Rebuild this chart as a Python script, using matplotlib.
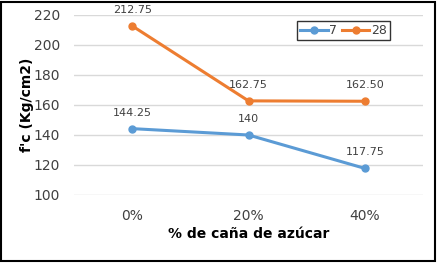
import matplotlib.pyplot as plt
from matplotlib.patches import Rectangle

categories = ["0%", "20%", "40%"]
series_7 = [144.25, 140, 117.75]
series_28 = [212.75, 162.75, 162.50]
labels_7 = ["144.25", "140", "117.75"]
labels_28 = ["212.75", "162.75", "162.50"]
yticks = [100, 120, 140, 160, 180, 200, 220]

W, H = 443, 265
fig = plt.figure(figsize=(W / 100, H / 100), dpi=100)
ax = fig.add_axes([74 / W, 1 - 195 / H, (423 - 74) / W, (195 - 15) / H])

x = list(range(len(categories)))
ax.plot(x, series_7, color="#5B9BD5", lw=2.2, marker="o", ms=5, label="7")
ax.plot(x, series_28, color="#ED7D31", lw=2.2, marker="o", ms=5, label="28")

for xi, yi, t in zip(x, series_7, labels_7):
    ax.annotate(t, (xi, yi), xytext=(0, 8), textcoords="offset points",
                ha="center", va="bottom", fontsize=8, color="#404040")
for xi, yi, t in zip(x, series_28, labels_28):
    ax.annotate(t, (xi, yi), xytext=(0, 8), textcoords="offset points",
                ha="center", va="bottom", fontsize=8, color="#404040")

ax.set_xlim(-0.5, 2.5)
ax.set_ylim(100, 220)
ax.set_yticks(yticks)
ax.set_xticks(x)
ax.set_xticklabels(categories)
ax.grid(axis="y", color="#D9D9D9", lw=1)
ax.set_axisbelow(True)
for s in ax.spines.values():
    s.set_visible(False)
ax.tick_params(length=0, labelsize=10, labelcolor="#404040")
ax.tick_params(axis="x", pad=10)
ax.tick_params(axis="y", pad=10)

ax.set_xlabel("% de caña de azúcar", fontsize=10, fontweight="bold", labelpad=3)
ax.set_ylabel("f'c (Kg/cm2)", fontsize=10, fontweight="bold", labelpad=0)

leg = ax.legend(loc="upper left", bbox_to_anchor=((297 - 74) / (423 - 74), 1 - (21 - 15) / 180),
                ncol=2, frameon=True, fancybox=False, fontsize=9,
                handlelength=2.2, columnspacing=0.4, handletextpad=0.1,
                borderpad=0.25, borderaxespad=0, labelcolor="#404040")
leg.get_frame().set_edgecolor("black")
leg.get_frame().set_linewidth(1)

fig.patches.append(Rectangle((1 / W, 4 / H), 434 / W, 259 / H, transform=fig.transFigure,
                             fill=False, edgecolor="black", lw=1.5))

fig.savefig("out.png", dpi=100)
